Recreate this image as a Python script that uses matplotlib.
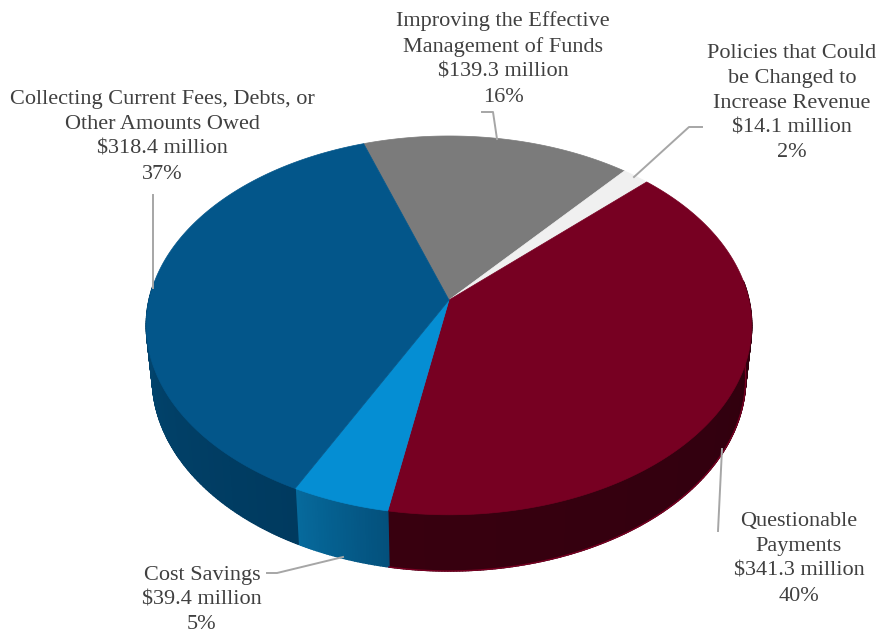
import numpy as np
import matplotlib
matplotlib.use("Agg")
import matplotlib.pyplot as plt
from matplotlib.collections import PolyCollection
from matplotlib.colors import to_rgb

# clockwise from the blue/grey boundary
names = ["Improving the Effective\nManagement of Funds",
         "Policies that Could\nbe Changed to\nIncrease Revenue",
         "Questionable\nPayments",
         "Cost Savings",
         "Collecting Current Fees, Debts, or\nOther Amounts Owed"]
values = [139.3, 14.1, 341.3, 39.4, 318.4]
percents = [16, 2, 40, 5, 37]

top_colors = ["#7b7b7b", "#f0f0f0", "#770022", "#058ed3", "#03568a"]
# wall shade at the start and end of each slice (clockwise)
wall_colors = [("#555555", "#555555"), ("#b0b0b0", "#b0b0b0"),
               ("#2c000e", "#38000f"), ("#04507c", "#066a9c"),
               ("#003a5f", "#04517f")]

# label centre and leader line, in picture pixels
label_xy = [(503, 59), (792, 103), (799, 559), (202, 600), (162, 137)]
leaders = [[(482, 112), (493, 112), (497, 139)],
           [(702, 127), (689, 127), (634, 177)],
           [(718, 531), (722, 449)],
           [(267, 573), (277, 573), (343, 557)],
           [(153, 195), (153, 288)]]

start_angle = -18.7
cx, cy = 449, 300
rx, ry = 300, 186
persp = 0.134
drop_y = 52.4
bottom_scale = 0.98


def project(theta, bottom=False):
    t = np.radians(theta)
    u = np.sin(t)
    v = np.cos(t)
    w = 1 + persp * v
    if bottom:
        return (cx + bottom_scale * rx * u / w,
                cy + (drop_y - bottom_scale * ry * v) / w)
    return cx + rx * u / w, cy - ry * v / w


fig = plt.figure(figsize=(8.86, 6.33), dpi=100)
ax = fig.add_axes([0, 0, 1, 1])
ax.set_xlim(0, 886)
ax.set_ylim(633, 0)
ax.axis("off")

sweeps = np.array(values) / np.sum(values) * 360
edges = start_angle + np.concatenate([[0], np.cumsum(sweeps)])

# walls first, the top face covers whatever is at the back
for i in range(len(values)):
    ths = np.linspace(edges[i], edges[i + 1], max(int(sweeps[i] * 2), 2) + 1)
    c0 = np.array(to_rgb(wall_colors[i][0]))
    c1 = np.array(to_rgb(wall_colors[i][1]))
    quads = []
    cols = []
    for j in range(len(ths) - 1):
        tm = (ths[j] + ths[j + 1]) / 2
        if np.cos(np.radians(tm)) > 0.1:
            continue
        x0, y0 = project(ths[j])
        x1, y1 = project(ths[j + 1])
        x2, y2 = project(ths[j + 1], bottom=True)
        x3, y3 = project(ths[j], bottom=True)
        quads.append([(x0, y0), (x1, y1), (x2, y2), (x3, y3)])
        f = (tm - ths[0]) / (ths[-1] - ths[0])
        cols.append(c0 + (c1 - c0) * f)
    if quads:
        ax.add_collection(PolyCollection(quads, facecolors=cols, edgecolors=cols,
                                         linewidths=1.0, zorder=1))
    if i == 2:
        keep = np.cos(np.radians(ths)) < 0.1
        xs, ys = project(ths[keep], bottom=True)
        ax.plot(xs, ys, color=top_colors[i], lw=1.0, zorder=2)

for i in range(len(values)):
    ths = np.linspace(edges[i], edges[i + 1], max(int(sweeps[i] * 2), 2) + 1)
    xs, ys = project(ths)
    ax.fill(np.r_[cx, xs], np.r_[cy, ys], color=top_colors[i], lw=0.5, zorder=3)

for i in range(len(values)):
    label = f"{names[i]}\n${values[i]} million\n{percents[i]}%"
    ax.text(label_xy[i][0], label_xy[i][1], label, ha="center", va="center",
            family="Liberation Serif", fontsize=16, color="#404040",
            linespacing=1.41, zorder=5)
    pts = np.array(leaders[i])
    ax.plot(pts[:, 0], pts[:, 1], color="#a6a6a6", lw=1.4, zorder=4)

fig.savefig("out.png", dpi=100, facecolor="white")
